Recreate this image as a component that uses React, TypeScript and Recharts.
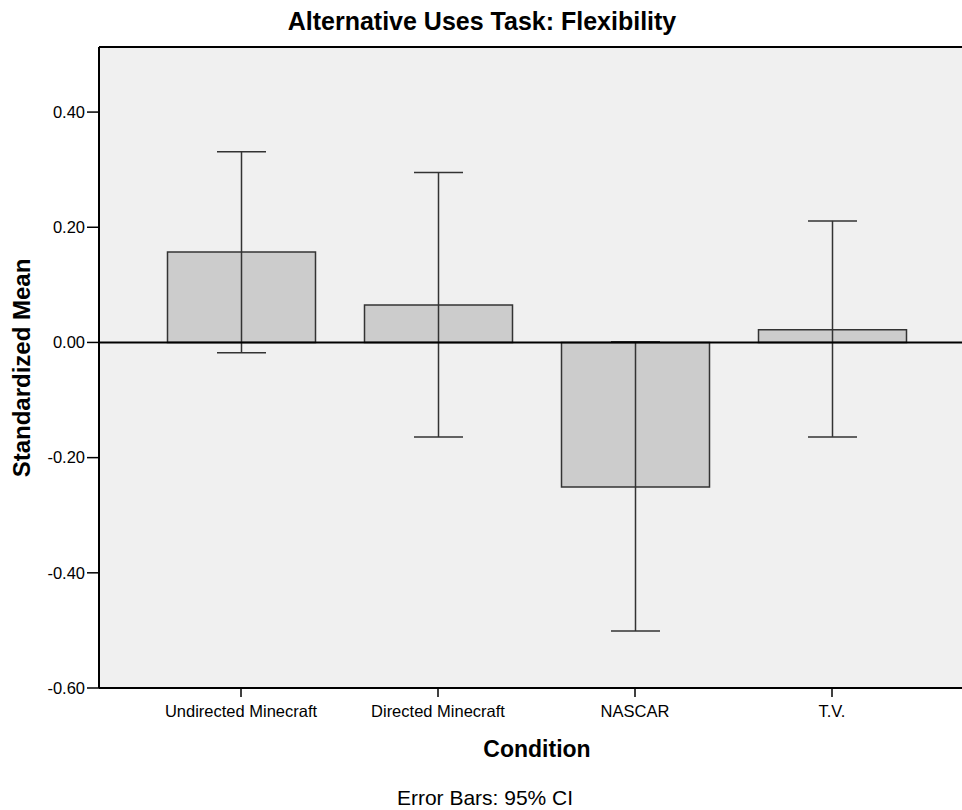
import {
  Bar,
  CartesianGrid,
  ComposedChart,
  ErrorBar,
  ReferenceLine,
  XAxis,
  YAxis,
} from "recharts";

// SPSS-style bar chart, means with 95% CI error bars
const conditions = ["Undirected Minecraft", "Directed Minecraft", "NASCAR", "T.V."];
const means = [0.157, 0.065, -0.251, 0.022];
const ciLow = [-0.018, -0.164, -0.501, -0.164];
const ciHigh = [0.331, 0.295, 0.001, 0.211];
const yTicks = [-0.6, -0.4, -0.2, 0, 0.2, 0.4];

const Y_MIN = -0.6;
const Y_MAX = 0.513;
const FONT = '"Liberation Sans", Arial, sans-serif';

const data = conditions.map((name, i) => ({
  name,
  mean: means[i],
  // ErrorBar wants [below, above] offsets from the mean
  ci: [means[i] - ciLow[i], ciHigh[i] - means[i]],
}));

export default function App() {
  return (
    <div
      style={{
        position: "fixed",
        left: 0,
        top: 0,
        width: 962,
        height: 810,
        overflow: "hidden",
        background: "#fff",
        fontFamily: FONT,
      }}
    >
      <ComposedChart
        width={974}
        height={810}
        data={data}
        margin={{ top: 47, right: 0, bottom: 62, left: 0 }}
      >
        <CartesianGrid fill="#f0f0f0" stroke="none" horizontal={false} vertical={false} />
        <XAxis
          dataKey="name"
          height={60}
          padding={{ left: 43.5, right: 43.5 }}
          axisLine={{ stroke: "#000", strokeWidth: 2 }}
          tickLine={{ stroke: "#000", strokeWidth: 1.5 }}
          tickSize={9}
          tickMargin={8}
          tick={{ fill: "#000", fontSize: 16.5, fontFamily: FONT }}
          interval={0}
        />
        <YAxis
          width={99}
          domain={[Y_MIN, Y_MAX]}
          ticks={yTicks}
          allowDataOverflow
          tickFormatter={(v: number) => v.toFixed(2)}
          axisLine={{ stroke: "#000", strokeWidth: 2 }}
          tickLine={{ stroke: "#000", strokeWidth: 1.5 }}
          tickSize={12}
          tickMargin={2}
          tick={{ fill: "#000", fontSize: 16.5, fontFamily: FONT }}
        />
        <Bar
          dataKey="mean"
          barSize={148}
          fill="#cccccc"
          stroke="#333"
          strokeWidth={1.5}
          isAnimationActive={false}
        >
          <ErrorBar
            dataKey="ci"
            direction="y"
            width={24.5}
            stroke="#333"
            strokeWidth={1.5}
            isAnimationActive={false}
          />
        </Bar>
        <ReferenceLine y={0} stroke="#000" strokeWidth={2} />
        <ReferenceLine y={Y_MAX} stroke="#000" strokeWidth={2} />
      </ComposedChart>
      <svg
        width={962}
        height={810}
        style={{ position: "absolute", left: 0, top: 0, pointerEvents: "none" }}
        fontFamily={FONT}
      >
        <text x={482} y={30} textAnchor="middle" fontSize={25} fontWeight="bold" fill="#000">
          Alternative Uses Task: Flexibility
        </text>
        <text
          transform="translate(30,368) rotate(-90)"
          textAnchor="middle"
          fontSize={24}
          fontWeight="bold"
          fill="#000"
        >
          Standardized Mean
        </text>
        <text x={537} y={757} textAnchor="middle" fontSize={23} fontWeight="bold" fill="#000">
          Condition
        </text>
        <text x={485} y={805} textAnchor="middle" fontSize={21} fill="#000">
          Error Bars: 95% CI
        </text>
      </svg>
    </div>
  );
}
